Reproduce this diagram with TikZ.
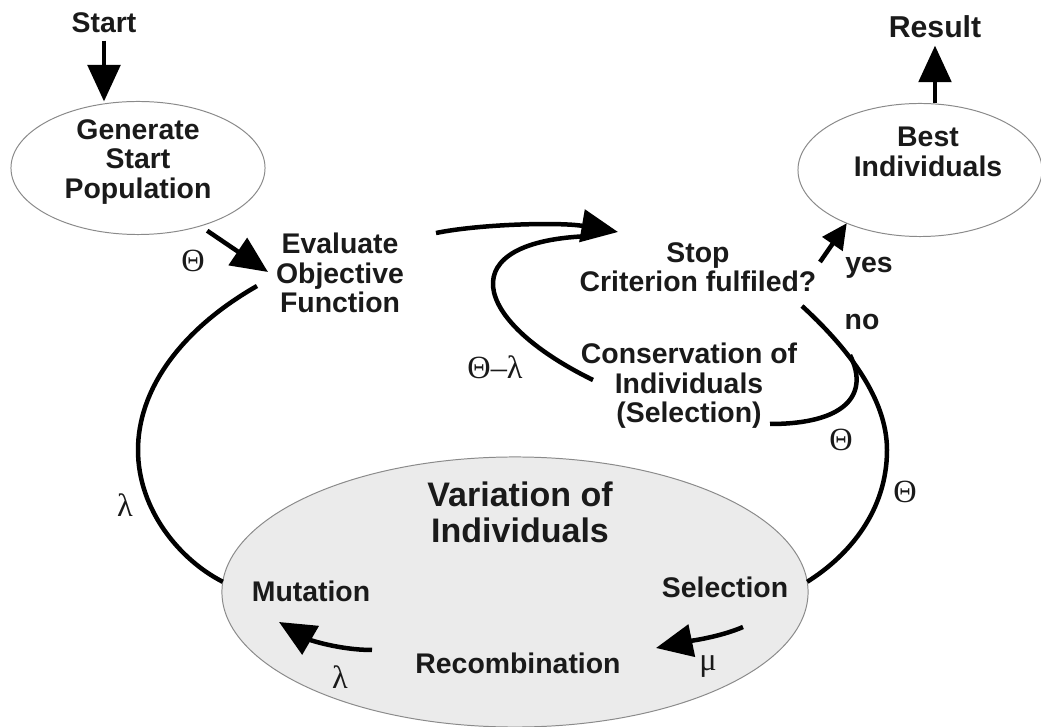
\documentclass[tikz,border=0pt]{standalone}
\usepackage{fontspec}
\setmainfont{Liberation Sans}
\newfontfamily\grk{Liberation Serif}
\usetikzlibrary{shapes.geometric,arrows.meta,calc}
\definecolor{ellfill}{HTML}{EBEBEB}
\definecolor{ellline}{HTML}{8A8A8A}
\definecolor{ink}{HTML}{1A1A1A}
\begin{document}
\begin{tikzpicture}[x=0.025cm,y=-0.025cm,
  lab/.style={font=\bfseries\fontsize{20.2}{21}\selectfont, inner sep=0pt, text=ink},
  slab/.style={lab, anchor=base},
  mlab/.style={lab, align=center, anchor=north},
  gk/.style={font=\grk\fontsize{23}{23}\selectfont, inner sep=0pt, text=ink},
  ell/.style={ellipse, draw=ellline, line width=0.7pt, inner sep=0pt, outer sep=0pt},
  conn/.style={line width=3.2pt, draw=black},
  arr/.style={conn, -{Triangle[length=26pt,width=23pt]}},
  arrs/.style={conn, -{Triangle[length=18pt,width=17pt]}},
]
\useasboundingbox (0,0) rectangle (1041,727);

% ellipses
\node[ell, fill=white, minimum width=6.35cm, minimum height=3.325cm] (gen) at (138,168) {};
\node[ell, fill=white, minimum width=6.1cm, minimum height=3.325cm] (best) at (920,170) {};
\node[ell, fill=ellfill, minimum width=14.65cm, minimum height=6.75cm] (var) at (515,592) {};

% text nodes
\node[slab] (start) at (104,33) {Start};
\node[slab, font=\bfseries\fontsize{21.5}{22}\selectfont] (result) at (935,38) {Result};
\node[mlab] (gentxt) at (138,119) {Generate\\Start\\Population};
\node[mlab] (eval) at (340,233) {Evaluate\\Objective\\Function};
\node[mlab] (stop) at (698,242) {Stop\\Criterion fulfiled?};
\node[mlab] (cons) at (689,343) {Conservation of\\Individuals\\(Selection)};
\node[mlab] (besttxt) at (928,127) {Best\\Individuals};
\node[lab, align=center, anchor=north, font=\bfseries\fontsize{24.2}{25}\selectfont] (vartxt) at (520,482) {Variation of\\Individuals};
\node[slab] (mut) at (311,602) {Mutation};
\node[slab] (sel) at (725,598) {Selection};
\node[slab] (rec) at (518,674) {Recombination};
\node[slab] (yes) at (869,273) {yes};
\node[slab] (no) at (862,330) {no};

% greek labels
\node[gk] (th1) at (193,261) {Θ};
\node[gk] (lam1) at (125,505) {λ};
\node[gk] (thlam) at (495,367) {Θ–λ};
\node[gk] (th2) at (841,440) {Θ};
\node[gk] (th3) at (905,492) {Θ};
\node[gk] (mu) at (708,667) {μ};
\node[gk] (lam2) at (340,677) {λ};

% connector end points
\coordinate (evalin) at (268,272);
\coordinate (evalout) at (436,233);
\coordinate (stopin) at (618,232);
\coordinate (consout) at (593,380);
\coordinate (merge) at (592,236);
\coordinate (yesfrom) at (820,262);
\coordinate (nofrom) at (802,306);
\coordinate (consend) at (770,424);
\coordinate (nomerge) at (850,355);
\coordinate (evalfrom) at (257,286);
\coordinate (recfrom) at (372,650);
\coordinate (mutto) at (279,622);
\coordinate (selfrom) at (743,627);
\coordinate (recto) at (656,648);

% connectors
\draw[arr, shorten <=5pt] (start.south) -- (start.south |- gen.north);
\draw[arr, shorten <=6pt] (gen.-43) -- (evalin);
\draw[arr] (evalout) .. controls (480,224) and (560,222) .. (stopin);
\draw[conn] (consout) .. controls (470,320) and (450,240) .. (merge);
\draw[arrs] (yesfrom) -- (best.-144);
\draw[arr, shorten >=5pt] (result.south |- best.north) -- (result.south);
\draw[conn] (nofrom) .. controls (850,350) and (887,400) .. (887,450)
   .. controls (887,510) and (850,555) .. (var.2);
\draw[conn] (consend) .. controls (845,424) and (870,395) .. (nomerge);
\draw[conn] (var.178) .. controls (180,560) and (138,510) .. (138,450)
   .. controls (138,390) and (180,330) .. (evalfrom);
\draw[arr] (recfrom) .. controls (340,650) and (310,640) .. (mutto);
\draw[arr] (selfrom) .. controls (720,637) and (690,641) .. (recto);
\end{tikzpicture}
\end{document}
